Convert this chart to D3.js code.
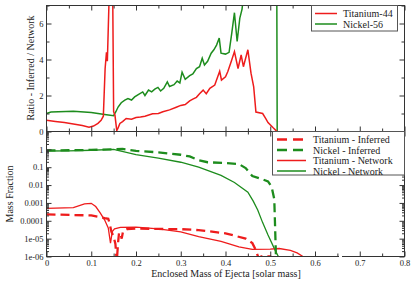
<!DOCTYPE html>
<html>
<head>
<meta charset="UTF-8">
<script src="https://d3js.org/d3.v7.min.js"></script>
<style>
  body { margin: 0; background: #fff; }
  text { font-family: "Liberation Serif", "Times New Roman", serif; fill: #222; }
</style>
</head>
<body>
<svg id="chart" width="415" height="282"></svg>
<script>
// top panel: ratio inferred / network  [mass, ratio]
const ratioTi44 = [
  [0, 0.62], [0.02, 0.56], [0.04, 0.5], [0.06, 0.42], [0.08, 0.33], [0.095, 0.24],
  [0.105, 0.3], [0.115, 0.45], [0.122, 0.62], [0.127, 0.85], [0.131, 3.5], [0.134, 4.4],
  [0.136, 3.9], [0.14, 7.5], [0.148, 7.5], [0.15, 1.1], [0.153, 0.9], [0.157, 0.05],
  [0.16, 0.2], [0.164, 0.45], [0.17, 0.55], [0.178, 0.72], [0.19, 0.68], [0.2, 0.78],
  [0.21, 0.8], [0.22, 0.85], [0.237, 0.98], [0.25, 1.0], [0.26, 1.1], [0.275, 1.2],
  [0.29, 1.35], [0.3, 1.45], [0.31, 1.5], [0.32, 1.7], [0.327, 1.8], [0.335, 1.9],
  [0.342, 2.1], [0.35, 2.3], [0.357, 2.1], [0.365, 2.4], [0.376, 2.58], [0.387, 3.35],
  [0.391, 2.86], [0.4, 3.04], [0.405, 3.32], [0.413, 3.9], [0.42, 4.44], [0.428, 3.5],
  [0.435, 4.25], [0.44, 3.6], [0.45, 4.54], [0.457, 3.24], [0.463, 2.48], [0.468, 1.08],
  [0.483, 1.0], [0.49, 0.72], [0.495, 0.5], [0.506, 0.22], [0.513, 0.05], [0.516, 0]
];
const ratioNi56 = [
  [0, 1.0], [0.01, 1.08], [0.06, 1.12], [0.1, 1.06], [0.13, 0.95], [0.15, 0.88],
  [0.155, 1.1], [0.16, 1.36], [0.167, 1.6], [0.175, 1.74], [0.182, 1.83], [0.19, 1.75],
  [0.197, 1.92], [0.205, 2.05], [0.215, 2.2], [0.22, 2.0], [0.228, 2.3], [0.235, 2.2],
  [0.242, 2.35], [0.249, 2.45], [0.255, 2.25], [0.262, 2.4], [0.27, 2.76], [0.275, 2.5],
  [0.285, 2.6], [0.292, 2.8], [0.298, 2.7], [0.303, 3.3], [0.31, 2.9], [0.32, 3.1],
  [0.327, 3.2], [0.335, 3.5], [0.342, 3.6], [0.348, 4.07], [0.353, 3.7], [0.36, 3.9],
  [0.368, 4.35], [0.374, 4.54], [0.38, 4.8], [0.386, 5.19], [0.39, 4.35], [0.4, 4.3],
  [0.408, 4.4], [0.414, 5.47], [0.42, 6.6], [0.426, 5.0], [0.432, 6.3], [0.437, 6.8],
  [0.44, 7.5], [0.5, 9], [0.5145, 9], [0.5155, 0]
];

// bottom panel: mass fractions  [mass, fraction]
const tiInferred = [
  [0, 2.3e-4], [0.06, 2.1e-4], [0.1, 2.0e-4], [0.12, 1.6e-4], [0.13, 1.4e-4], [0.138, 1.3e-4],
  [0.141, 7.1e-5], [0.145, 2.5e-5], [0.15, 1.3e-5], [0.154, 5e-6], [0.157, 5e-7], [0.16, 6.3e-6],
  [0.162, 2e-5], [0.165, 2.2e-5], [0.168, 1e-5], [0.171, 2.5e-5], [0.18, 3.4e-5], [0.2, 3.7e-5],
  [0.25, 3.5e-5], [0.3, 3.4e-5], [0.34, 3e-5], [0.4, 2e-5], [0.445, 1e-5], [0.46, 5.6e-6],
  [0.468, 2.2e-6], [0.474, 8e-7], [0.48, 1e-6], [0.5, 1e-6], [0.505, 5e-7]
];
const niInferred = [
  [0, 0.87], [0.05, 0.89], [0.1, 0.93], [0.15, 1.0], [0.17, 1.05], [0.2, 0.83],
  [0.25, 0.68], [0.3, 0.5], [0.32, 0.4], [0.34, 0.25], [0.36, 0.19], [0.4, 0.17],
  [0.43, 0.15], [0.445, 0.089], [0.46, 0.032], [0.48, 0.022], [0.495, 0.016], [0.503, 0.008],
  [0.509, 1.6e-3], [0.511, 3.2e-5], [0.513, 6e-7]
];
const tiNetwork = [
  [0, 4.9e-4], [0.06, 5.5e-4], [0.085, 8.9e-4], [0.1, 9.5e-4], [0.11, 6.3e-4], [0.12, 2.8e-4],
  [0.13, 1.1e-4], [0.138, 4.0e-5], [0.143, 5.6e-6], [0.147, 2.5e-5], [0.152, 3.5e-5], [0.165, 4.3e-5],
  [0.2, 4.4e-5], [0.25, 3.5e-5], [0.3, 2.4e-5], [0.34, 1.3e-5], [0.39, 7.1e-6], [0.43, 3.5e-6],
  [0.46, 2.5e-6], [0.5, 2.6e-6], [0.52, 2.8e-6], [0.545, 2.2e-6], [0.56, 1.6e-6], [0.573, 1.0e-6],
  [0.58, 8e-7]
];
const niNetwork = [
  [0, 0.81], [0.05, 0.83], [0.1, 0.89], [0.15, 1.0], [0.2, 0.5], [0.25, 0.32],
  [0.3, 0.19], [0.34, 0.1], [0.39, 0.035], [0.42, 0.014], [0.45, 0.004], [0.462, 1.26e-3],
  [0.472, 4e-4], [0.483, 7.9e-5], [0.495, 1.6e-5], [0.51, 2.5e-6], [0.52, 8e-7]
];

const xTicks = [0, 0.1, 0.2, 0.3, 0.4, 0.5, 0.6, 0.7, 0.8];
const xTickLabels = ["0", "0.1", "0.2", "0.3", "0.4", "0.5", "0.6", "0.7", "0.8"];
const topTicks = [0, 2, 4, 6];
const botTicks = [1e-6, 1e-5, 1e-4, 1e-3, 1e-2, 0.1, 1];
const botTickLabels = ["1e-06", "1e-05", "0.0001", "0.001", "0.01", "0.1", "1"];

const red = "#ee1c1c", green = "#1d8c1d", frameCol = "#333";

const svg = d3.select("#chart");
const x = d3.scaleLinear().domain([0, 0.8]).range([46.5, 404.5]);
const yTop = d3.scaleLinear().domain([0, 7]).range([131.5, 5.5]);
const yBot = d3.scaleLog().domain([1e-6, 10]).range([256.5, 131.5]);

// clip paths
const defs = svg.append("defs");
defs.append("clipPath").attr("id", "clipTop").append("rect")
  .attr("x", 46.5).attr("y", 5.5).attr("width", 358).attr("height", 126);
defs.append("clipPath").attr("id", "clipBot").append("rect")
  .attr("x", 46.5).attr("y", 131.5).attr("width", 358).attr("height", 125);

const lineTop = d3.line().x(d => x(d[0])).y(d => yTop(d[1]));
const lineBot = d3.line().x(d => x(d[0])).y(d => yBot(d[1]));

const gTop = svg.append("g").attr("clip-path", "url(#clipTop)");
gTop.append("path").datum(ratioNi56).attr("d", lineTop)
  .attr("fill", "none").attr("stroke", green).attr("stroke-width", 1.5);
gTop.append("path").datum(ratioTi44).attr("d", lineTop)
  .attr("fill", "none").attr("stroke", red).attr("stroke-width", 1.5);

const gBot = svg.append("g").attr("clip-path", "url(#clipBot)");
gBot.append("path").datum(niNetwork).attr("d", lineBot)
  .attr("fill", "none").attr("stroke", green).attr("stroke-width", 1.3);
gBot.append("path").datum(tiNetwork).attr("d", lineBot)
  .attr("fill", "none").attr("stroke", red).attr("stroke-width", 1.3);
gBot.append("path").datum(niInferred).attr("d", lineBot)
  .attr("fill", "none").attr("stroke", green).attr("stroke-width", 2.3)
  .attr("stroke-dasharray", "9,5");
gBot.append("path").datum(tiInferred).attr("d", lineBot)
  .attr("fill", "none").attr("stroke", red).attr("stroke-width", 2.3)
  .attr("stroke-dasharray", "9,5");

// axes helper
function styleAxis(g) {
  g.select(".domain").remove();
  g.selectAll("line").attr("stroke", frameCol);
  g.selectAll("text").attr("font-size", 8.5).attr("font-family", "Liberation Serif").attr("fill", "#222");
}
const xMinor = d3.range(0.05, 0.8, 0.1);

// x ticks on every horizontal border
[[131.5, yTop, "up"], [5.5, null, "down"], [131.5, null, "down"], [256.5, null, "up"]].forEach(([yy, , dir]) => {
  const s = dir === "up" ? -1 : 1;
  svg.append("g").attr("transform", `translate(0,${yy})`)
    .call(d3.axisBottom(x).tickValues(xTicks).tickSize(5 * s).tickFormat(""))
    .call(styleAxis);
  svg.append("g").attr("transform", `translate(0,${yy})`)
    .call(d3.axisBottom(x).tickValues(xMinor).tickSize(3 * s).tickFormat(""))
    .call(styleAxis);
});
svg.append("g").attr("transform", "translate(0,256.5)")
  .call(d3.axisBottom(x).tickValues(xTicks).tickSize(0).tickPadding(3)
    .tickFormat((d, i) => xTickLabels[i]))
  .call(styleAxis);

// top y axis
const topMinor = [1, 3, 5, 7];
svg.append("g").attr("transform", "translate(46.5,0)")
  .call(d3.axisLeft(yTop).tickValues(topTicks).tickSize(-5).tickPadding(3)
    .tickFormat((d, i) => String(topTicks[i])))
  .call(styleAxis);
svg.append("g").attr("transform", "translate(46.5,0)")
  .call(d3.axisLeft(yTop).tickValues(topMinor).tickSize(-3).tickFormat(""))
  .call(styleAxis);
svg.append("g").attr("transform", "translate(404.5,0)")
  .call(d3.axisRight(yTop).tickValues(topTicks).tickSize(-5).tickFormat(""))
  .call(styleAxis);
svg.append("g").attr("transform", "translate(404.5,0)")
  .call(d3.axisRight(yTop).tickValues(topMinor).tickSize(-3).tickFormat(""))
  .call(styleAxis);

// bottom log axis
const botMinor = [];
for (let e = -6; e < 1; e++) for (let k = 2; k < 10; k++) botMinor.push(k * Math.pow(10, e));
svg.append("g").attr("transform", "translate(46.5,0)")
  .call(d3.axisLeft(yBot).tickValues(botTicks).tickSize(-5).tickPadding(3)
    .tickFormat((d, i) => botTickLabels[i]))
  .call(styleAxis);
svg.append("g").attr("transform", "translate(46.5,0)")
  .call(d3.axisLeft(yBot).tickValues(botMinor).tickSize(-2.5).tickFormat(""))
  .call(styleAxis);
svg.append("g").attr("transform", "translate(404.5,0)")
  .call(d3.axisRight(yBot).tickValues(botTicks).tickSize(-5).tickFormat(""))
  .call(styleAxis);
svg.append("g").attr("transform", "translate(404.5,0)")
  .call(d3.axisRight(yBot).tickValues(botMinor).tickSize(-2.5).tickFormat(""))
  .call(styleAxis);

// frames
svg.append("rect").attr("x", 46.5).attr("y", 5.5).attr("width", 358).attr("height", 126)
  .attr("fill", "none").attr("stroke", frameCol);
svg.append("rect").attr("x", 46.5).attr("y", 131.5).attr("width", 358).attr("height", 125)
  .attr("fill", "none").attr("stroke", frameCol);
// small break in the bottom axis line
svg.append("rect").attr("x", 339).attr("y", 254).attr("width", 3).attr("height", 5).attr("fill", "#fff");

// axis titles
svg.append("text").attr("x", 226).attr("y", 277).attr("text-anchor", "middle")
  .attr("font-size", 10).text("Enclosed Mass of Ejecta [solar mass]");
svg.append("text").attr("transform", "translate(34,68) rotate(-90)").attr("text-anchor", "middle")
  .attr("font-size", 10).text("Ratio - Inferred / Network");
svg.append("text").attr("transform", "translate(13,194) rotate(-90)").attr("text-anchor", "middle")
  .attr("font-size", 10).text("Mass Fraction");

// legends
function legend(x0, y0, w, h, items, lx0, lx1, tx, rowY) {
  const g = svg.append("g");
  g.append("rect").attr("x", x0).attr("y", y0).attr("width", w).attr("height", h)
    .attr("fill", "#fff").attr("stroke", "#555");
  items.forEach((it, i) => {
    const yy = rowY[i];
    g.append("line").attr("x1", lx0).attr("x2", lx1).attr("y1", yy).attr("y2", yy)
      .attr("stroke", it.color).attr("stroke-width", it.dash ? 2.3 : 1.5)
      .attr("stroke-dasharray", it.dash ? "10,6" : null);
    g.append("text").attr("x", tx).attr("y", yy + 3.5).attr("font-size", 10).text(it.name);
  });
}
legend(311.5, 5.5, 86, 25.5, [
  { name: "Titanium-44", color: red },
  { name: "Nickel-56", color: green }
], 315, 337, 343, [13.5, 24]);
legend(272.5, 131.5, 132, 43.5, [
  { name: "Titanium - Inferred", color: red, dash: true },
  { name: "Nickel - Inferred", color: green, dash: true },
  { name: "Titanium - Network", color: red },
  { name: "Nickel - Network", color: green }
], 277, 306, 313, [139.5, 150, 160.5, 171]);
</script>
</body>
</html>
